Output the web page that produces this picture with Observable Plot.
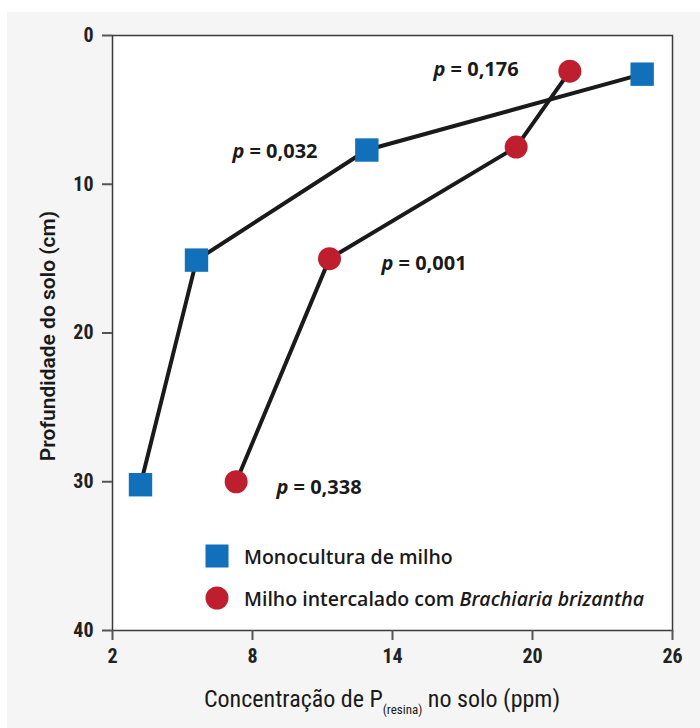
<!DOCTYPE html>
<html>
<head>
<meta charset="utf-8">
<script src="https://cdn.jsdelivr.net/npm/d3@7"></script>
<script src="https://cdn.jsdelivr.net/npm/@observablehq/plot@0.6"></script>
<style>
  html, body { margin: 0; padding: 0; background: #ffffff; }
  #wrap { position: relative; width: 700px; height: 728px; overflow: hidden; }
  #panel { position: absolute; left: 7px; top: 12px; width: 693px; height: 716px; background: #f5f5f5; }
  #chart { position: absolute; left: 0; top: 0; }
  .tick-font text { font-family: "Liberation Sans Narrow", "Roboto Condensed", Roboto, sans-serif; font-weight: bold; font-size: 20px; fill: #222; }
  #ytitle { position: absolute; left: 0; top: 0; transform-origin: 0 0; transform: translate(48px, 336px) rotate(-90deg) translate(-50%, -50%); white-space: nowrap;
            font-family: Roboto, sans-serif; font-weight: 600; font-size: 21px; color: #1a1a1a; }
  #xtitle { position: absolute; left: 382px; top: 699px; transform: translate(-50%, -50%); white-space: nowrap;
            font-family: "Liberation Sans Narrow", "Roboto Condensed", Roboto, sans-serif; font-size: 24px; color: #1a1a1a; }
  #xtitle sub { font-size: 13px; vertical-align: -7px; line-height: 0; }
  #legend { position: absolute; left: 203px; top: 535px; font-family: "Open Sans", sans-serif; font-weight: 600; font-size: 19.5px; color: #1a1a1a; }
  #legend .row { display: flex; align-items: center; height: 42px; }
  #legend .sw { width: 28px; height: 28px; display: flex; align-items: center; justify-content: center; margin-right: 13px; }
</style>
</head>
<body>
<div id="wrap">
  <div id="panel"></div>
  <div id="chart"></div>
  <div id="ytitle">Profundidade do solo (cm)</div>
  <div id="xtitle">Concentração de P<sub>(resina)</sub> no solo (ppm)</div>
  <div id="legend"></div>
</div>
<script>
// ---- data ----
const seriesNames = ["Monocultura de milho", "Milho intercalado com Brachiaria brizantha"];
const monoConc  = [24.7, 12.9, 5.6, 3.2];
const monoDepth = [2.6, 7.7, 15.1, 30.2];
const interConc  = [21.6, 19.3, 11.3, 7.3];
const interDepth = [2.4, 7.5, 15.0, 30.0];
const pLabels = ["0,176", "0,032", "0,001", "0,338"];
const pLabelX = [15.76, 7.14, 13.53, 9.03];
const pLabelY = [2.29, 7.8, 15.33, 30.39];
const xTicks = [2, 8, 14, 20, 26];
const yTicks = [0, 10, 20, 30, 40];
const colors = ["#1170b9", "#be1e2d"];

const mono = monoConc.map((c, i) => ({series: seriesNames[0], conc: c, depth: monoDepth[i]}));
const inter = interConc.map((c, i) => ({series: seriesNames[1], conc: c, depth: interDepth[i]}));
const labels = pLabels.map((t, i) => ({text: t, x: pLabelX[i], y: pLabelY[i]}));

const chart = Plot.plot({
  width: 700,
  height: 728,
  marginLeft: 112,
  marginRight: 28,
  marginTop: 35,
  marginBottom: 98,
  style: {background: "transparent", overflow: "visible"},
  x: {domain: [2, 26]},
  y: {domain: [0, 40], reverse: true},
  marks: [
    Plot.frame({fill: "white", stroke: "#3a3a3a", strokeWidth: 1.5}),
    Plot.axisX({ticks: xTicks, tickSize: 10, tickPadding: 8, label: null, stroke: "#555", strokeWidth: 2, className: "tick-font"}),
    Plot.axisY({ticks: yTicks, tickSize: 10, tickPadding: 9, label: null, stroke: "#555", strokeWidth: 2, className: "tick-font"}),
    Plot.line(mono, {x: "conc", y: "depth", stroke: "#1a1a1a", strokeWidth: 4}),
    Plot.line(inter, {x: "conc", y: "depth", stroke: "#1a1a1a", strokeWidth: 4}),
    Plot.dot(mono, {x: "conc", y: "depth", symbol: "square", r: 13.2, fill: colors[0], stroke: "none"}),
    Plot.dot(inter, {x: "conc", y: "depth", symbol: "circle", r: 11.5, fill: colors[1], stroke: "none"}),
    Plot.text(labels, {x: "x", y: "y", text: () => "p", textAnchor: "start", lineAnchor: "middle",
      fontFamily: "Open Sans", fontWeight: "bold", fontStyle: "italic", fontSize: 20, fill: "#1a1a1a"}),
    Plot.text(labels, {x: "x", y: "y", text: d => "= " + d.text, textAnchor: "start", lineAnchor: "middle", dx: 17,
      fontFamily: "Open Sans", fontWeight: "bold", fontSize: 20, fill: "#1a1a1a"})
  ]
});
document.getElementById("chart").appendChild(chart);

// legend
const legend = document.getElementById("legend");
const legendHTML = [
  `<div class="row"><div class="sw"><svg width="24" height="24"><rect x="0.5" y="0.5" width="23" height="23" fill="${colors[0]}"/></svg></div><span>${seriesNames[0]}</span></div>`,
  `<div class="row"><div class="sw"><svg width="24" height="24"><circle cx="12" cy="12" r="11.5" fill="${colors[1]}"/></svg></div><span>Milho intercalado com <i>Brachiaria brizantha</i></span></div>`
];
legend.innerHTML = legendHTML.join("");
</script>
</body>
</html>
